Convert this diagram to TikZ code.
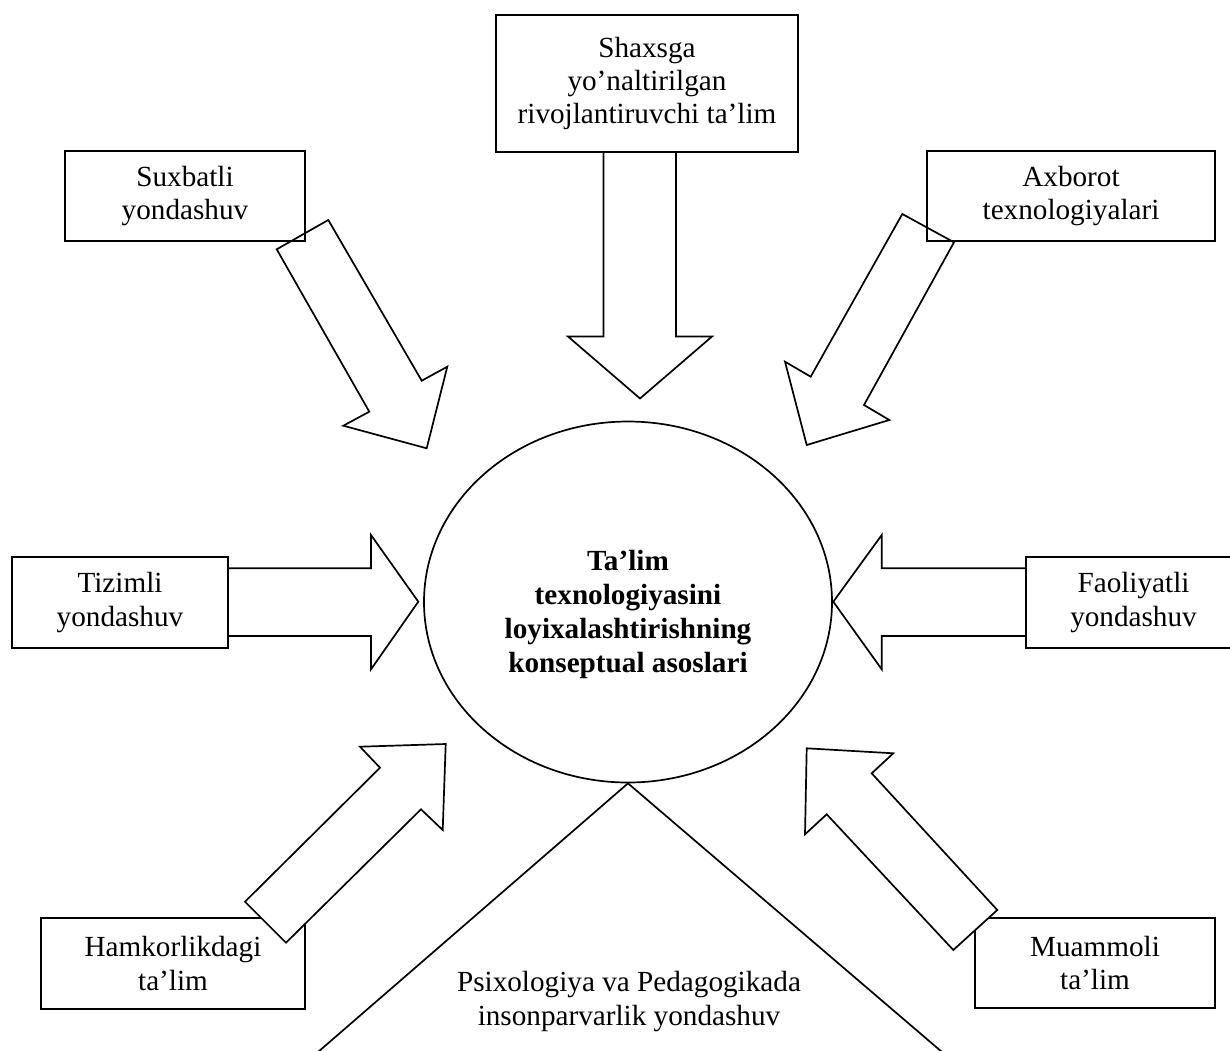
\documentclass[tikz,border=0pt]{standalone}
\usepackage{fontspec}
\setmainfont{Liberation Serif}
\usetikzlibrary{shapes.geometric}
\begin{document}
\begin{tikzpicture}[x=0.5pt,y=-0.5pt,
  txt/.style={align=center,inner sep=0pt,font=\fontsize{14.6}{16.7}\selectfont},
  box/.style={txt,draw,line width=1pt,rectangle},
  bigtxt/.style={align=center,inner sep=0pt,font=\fontsize{14.6}{16.95}\selectfont\bfseries},
  barrow/.style={draw,line width=0.85pt,line join=miter},
  warrow/.style={barrow,fill=white},
  thinline/.style={draw,line width=0.85pt}]
\useasboundingbox (0,0) rectangle (1230,1050);

% boxes
\node[box,minimum width=151pt,minimum height=68.5pt] (shaxs) at (647,83.5) {Shaxsga\\yo’naltirilgan\\rivojlantiruvchi ta’lim};
\node[box,minimum width=120pt,minimum height=45pt] (sux) at (185,196) {Suxbatli\\yondashuv};
\node[box,minimum width=144pt,minimum height=45pt] (axb) at (1071,196) {Axborot\\texnologiyalari};
\node[box,minimum width=108pt,minimum height=45.5pt] (tiz) at (120,602.5) {Tizimli\\yondashuv};
\node[box,minimum width=107.5pt,minimum height=45.5pt] (fao) at (1133.5,602.5) {Faoliyatli\\yondashuv};
\node[box,minimum width=132pt,minimum height=45.5pt] (ham) at (173,963.5) {Hamkorlikdagi\\ta’lim};
\node[box,minimum width=120pt,minimum height=45pt] (muam) at (1095,963) {Muammoli\\ta’lim};

% central ellipse
\node[draw,ellipse,line width=0.85pt,minimum width=204pt,minimum height=180.5pt,inner sep=0pt] (core) at (628,602) {};
\node[bigtxt] (coretext) at (628,614.7) {Ta’lim\\texnologiyasini\\loyixalashtirishning\\konseptual asoslari};

% humanistic approach lines
\coordinate (pl) at (318,1052);
\coordinate (pr) at (942,1052);
\draw[thinline] (pl) -- (core.south) -- (pr);
\node[txt] (insp) at (629,1001.5) {Psixologiya va Pedagogikada\\insonparvarlik yondashuv};

% block arrows (top)
\path[barrow] (603.5,152) -- (603.5,336.5) -- (568,336.5) -- (640,398.5) -- (712,336.5) -- (676,336.5) -- (676,152);
\path[barrow] (328.3,220) -- (276.7,249.3) -- (369.3,411.7) -- (343.3,425.7) -- (426.7,448.3) -- (447.3,366.7) -- (421.7,380.7) -- cycle;
\path[barrow] (902.3,214) -- (954,242.3) -- (864,405) -- (889.3,420) -- (806.7,445) -- (785,361.7) -- (810.7,376.7) -- cycle;

% block arrows (sides)
\path[barrow] (228,568.3) -- (371,568.3) -- (371,535) -- (418.3,601.7) -- (371,669.3) -- (371,636) -- (228,636);
\path[barrow] (1026,568.3) -- (881.7,568.3) -- (881.7,535) -- (833.3,601.7) -- (881.7,669.3) -- (881.7,636) -- (1026,636);

% block arrows (bottom), drawn over the boxes
\path[warrow] (245,901.7) -- (286,942.7) -- (421,809.3) -- (442.7,830) -- (445.7,744) -- (360,746.7) -- (380,767.7) -- cycle;
\path[warrow] (997.3,910) -- (953.3,950) -- (826.7,814.3) -- (805,834.3) -- (806.7,748.3) -- (893.3,753.3) -- (871.7,773.3) -- cycle;
\end{tikzpicture}
\end{document}
